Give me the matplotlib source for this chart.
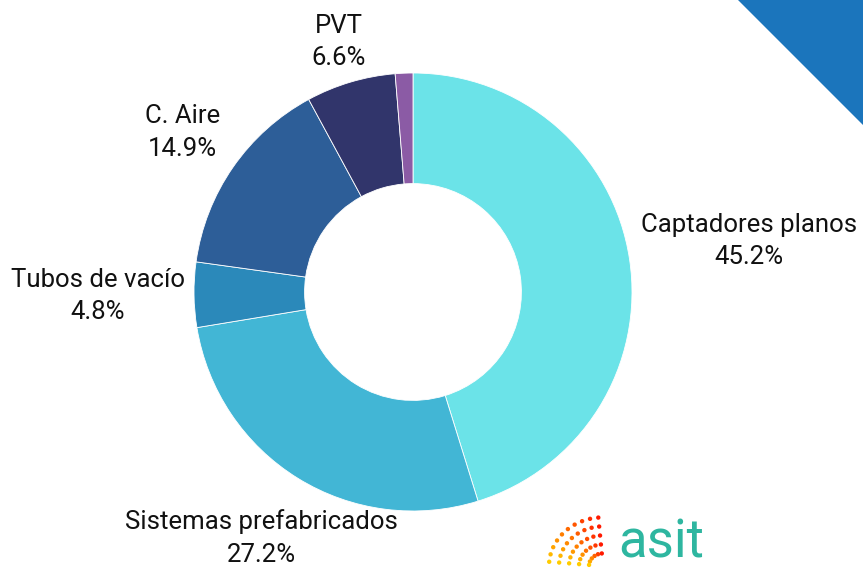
import numpy as np
import matplotlib.pyplot as plt
from matplotlib.patches import Polygon

labels = ["Captadores planos", "Sistemas prefabricados", "Tubos de vacío",
          "C. Aire", "PVT", ""]
values = [45.2, 27.2, 4.8, 14.9, 6.6, 1.3]
pct_text = ["45.2%", "27.2%", "4.8%", "14.9%", "6.6%", ""]
colors = ["#6BE3E8", "#42B6D5", "#2B89BA", "#2D5E98", "#31356B", "#8B5BA5"]
label_dist = [1.55, 1.32, 1.44, 1.28, 1.19, 0]

plt.rcParams['font.family'] = ['Roboto', 'DejaVu Sans']

fig = plt.figure(figsize=(8.63, 5.71), dpi=100)
ax = fig.add_axes([0, 0, 1, 1])
cx, cy, R = 413, 279, 219
wedges, _ = ax.pie(values, colors=colors, startangle=90, counterclock=False,
                   center=(cx, cy), radius=R,
                   wedgeprops=dict(width=R * 0.505, edgecolor="white", linewidth=0.6))

for w, lab, pct, d in zip(wedges, labels, pct_text, label_dist):
    if not lab:
        continue
    ang = np.deg2rad((w.theta1 + w.theta2) / 2)
    x = cx + d * R * np.cos(ang)
    y = cy + d * R * np.sin(ang)
    ax.text(x, y, lab + "\n" + pct, ha="center", va="center", fontsize=18.5,
            color="#111111", linespacing=1.45)

# corner triangle
ax.add_patch(Polygon([(738, 571), (863, 571), (863, 446)], closed=True,
                     color="#1B75BC", lw=0))

# logo: fan of dots + text
dx, dy, dc = [], [], []
for k, r in enumerate([14, 24, 34, 44, 54]):
    for a in np.linspace(95, 175, 6 + k):
        t = np.deg2rad(a)
        dx.append(603 + r * np.cos(t))
        dy.append(5 + 0.9 * r * np.sin(t))
        dc.append(1 - (a - 95) / 80)
ax.scatter(dx, dy, s=10, c=plt.cm.autumn_r(0.2 + 0.7 * np.array(dc)), lw=0)
ax.text(618, 2, "asit", fontsize=38, color="#2EB6A0", ha="left", va="bottom")

ax.set_xlim(0, 863)
ax.set_ylim(0, 571)
ax.axis("off")
fig.savefig("out.png", dpi=100)
